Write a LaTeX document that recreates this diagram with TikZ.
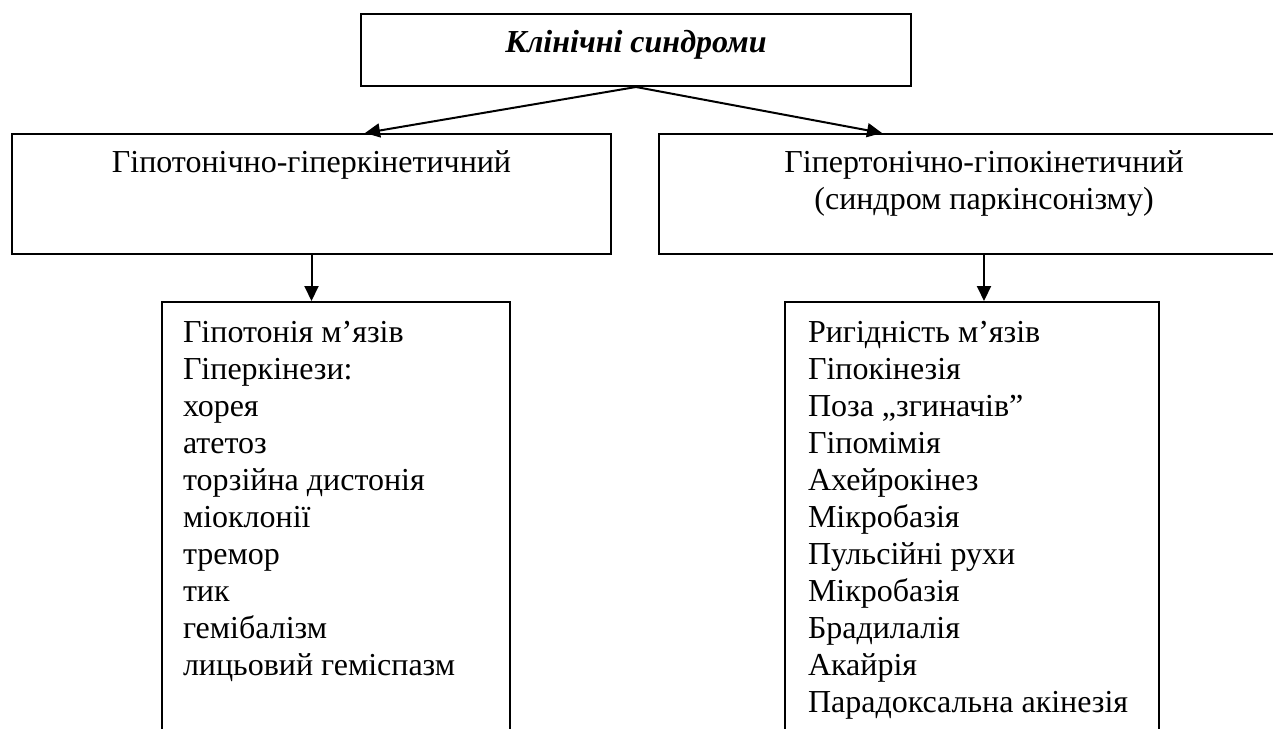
\documentclass[tikz,border=0pt]{standalone}
\usepackage{fontspec}
\setmainfont{Liberation Serif}
\usetikzlibrary{arrows.meta}

\begin{document}
\begin{tikzpicture}[x=0.5pt, y=-0.5pt, line width=1pt,
      font=\fontsize{16pt}{18.5pt}\selectfont,
      synbox/.style={draw=black, inner sep=0pt},
      arr/.style={-{Triangle[length=7.5pt, width=7pt]}}]
      \useasboundingbox (0,0) rectangle (1273,728);

      \node[synbox, name=top, minimum width=275pt, minimum height=36pt] at (636,50) {};
      \node[name=toptext, anchor=base] at (636,52) {\bfseries\itshape Клінічні синдроми};

      \node[synbox, name=hypo, minimum width=299.5pt, minimum height=60pt] at (311.5,194) {};
      \node[name=hypotext, anchor=base] at (311.5,172) {Гіпотонічно-гіперкінетичний};

      \node[synbox, name=hyper, minimum width=325pt, minimum height=60pt] at (984,194) {};
      \node[name=hypertext, anchor=north, inner sep=0pt, align=center] at (984,150)
         {Гіпертонічно-гіпокінетичний\\(синдром паркінсонізму)};

      \node[synbox, name=hypolist, minimum width=174pt, minimum height=250pt] at (336,552) {};
      \node[name=hypolisttext, anchor=north west, inner sep=0pt, align=left] at (182,320)
         {Гіпотонія м’язів\\Гіперкінези:\\хорея\\атетоз\\торзійна дистонія\\міоклонії\\тремор\\тик\\гемібалізм\\лицьовий геміспазм};

      \node[synbox, name=hyperlist, minimum width=187pt, minimum height=250pt] at (972,552) {};
      \node[name=hyperlisttext, anchor=north west, inner sep=0pt, align=left] at (807,320)
         {Ригідність м’язів\\Гіпокінезія\\Поза „згиначів”\\Гіпомімія\\Ахейрокінез\\Мікробазія\\Пульсійні рухи\\Мікробазія\\Брадилалія\\Акайрія\\Парадоксальна акінезія};

      \path[arr]
         (top.south) edge ([xshift=26.75pt]hypo.north)
         (top.south) edge ([xshift=-51pt]hyper.north)
         (hypo.south) edge (hypo.south |- hypolist.north)
         (hyper.south) edge (hyper.south |- hyperlist.north);
   \end{tikzpicture}
\end{document}
